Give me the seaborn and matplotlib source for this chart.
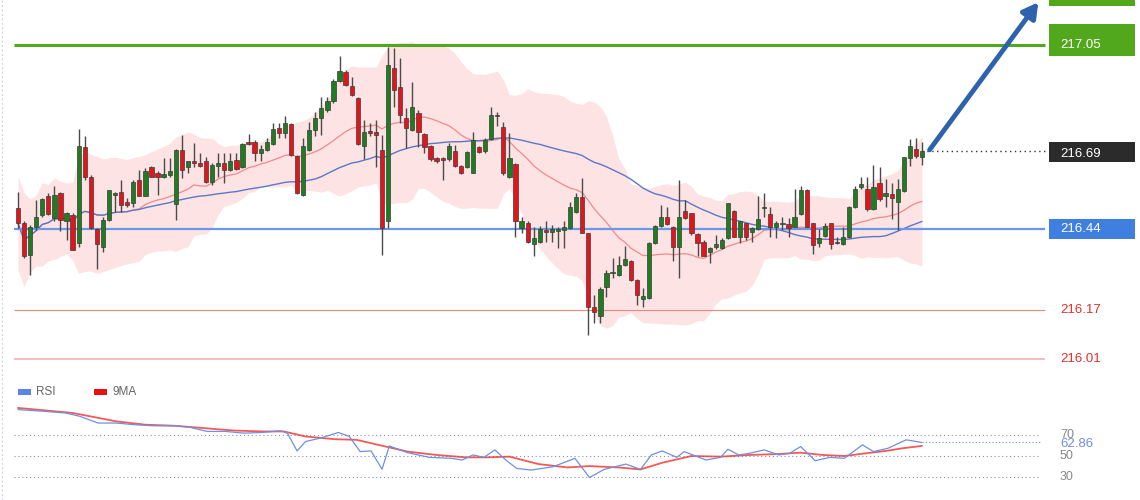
import numpy as np
import pandas as pd
import matplotlib
matplotlib.use("Agg")
import matplotlib.pyplot as plt
import seaborn as sns

# prices are given as thousandths above 216.000
PRICE_BASE = 216.0
open_m = [509,461,354,448,487,550,476,561,465,487,395,711,614,439,382,470,553,564,531,526,
603,550,645,625,614,619,523,702,647,664,660,664,597,649,660,636,669,645,727,727,
691,702,722,774,758,789,682,553,702,769,807,835,863,932,962,915,874,716,766,760,
702,465,973,912,807,769,826,755,716,675,675,671,700,649,645,627,711,697,738,818,
779,611,656,442,461,390,398,437,431,435,437,442,498,547,426,181,150,249,293,288,
321,335,271,207,210,393,450,481,448,379,501,492,424,398,365,379,376,409,501,415,
459,431,439,509,490,448,457,457,448,490,569,459,395,417,459,398,390,413,514,578,
572,505,592,550,556,531,567,674,704,680]
close_m = [459,349,448,481,539,490,553,470,492,371,716,614,443,391,470,568,561,520,520,597,
550,631,614,614,622,633,702,636,664,658,649,597,653,660,636,664,638,722,722,691,
705,730,771,758,791,686,559,716,769,807,840,866,932,965,918,885,722,760,758,752,
443,984,901,818,774,846,763,713,671,667,669,716,649,625,694,736,694,736,818,813,
625,674,465,465,398,409,439,431,439,439,446,514,547,428,183,166,240,295,299,321,
340,271,221,218,395,450,481,457,382,481,476,428,395,351,376,390,404,525,415,465,
415,442,472,512,448,459,461,442,481,569,448,387,409,450,390,393,415,512,572,589,
505,578,539,558,542,572,678,715,682,697]
high_m = [564,465,454,537,542,559,581,564,498,492,771,747,618,443,481,570,564,603,542,603,
636,642,649,631,675,675,706,752,667,724,691,680,658,691,691,691,691,724,755,736,
719,741,791,791,815,791,686,741,796,829,879,879,937,1012,966,943,877,802,791,802,
752,1045,1039,1006,840,929,835,758,719,680,678,724,719,653,697,763,716,741,846,829,
796,757,658,481,465,448,450,465,453,448,465,531,558,608,426,221,249,304,343,349,
384,337,273,244,398,453,520,514,450,603,536,494,428,402,382,420,409,526,503,468,
461,448,550,561,514,468,481,476,572,583,572,461,439,459,461,415,448,516,581,611,
614,652,645,605,592,605,680,737,741,730]
low_m = [443,343,288,437,481,487,465,432,404,371,382,603,440,307,365,465,498,498,514,514,
548,548,612,553,608,614,470,608,625,647,647,592,586,614,592,631,636,642,719,664,
664,697,719,741,741,682,556,551,700,747,752,829,857,929,915,881,718,671,747,647,
354,443,846,791,708,766,713,691,667,660,603,667,645,623,642,625,691,691,736,780,
619,608,415,426,393,349,395,398,398,376,376,439,494,426,89,127,127,216,277,284,
318,269,188,183,207,390,448,453,335,277,472,420,349,349,326,373,373,406,413,395,
404,398,437,481,415,409,437,415,446,487,446,357,382,415,373,390,387,409,509,572,
501,503,534,514,472,437,564,649,674,652]

rsi_pos = [0,4.2,7.8,10.2,13.2,16.2,19.2,22.2,25.8,28.2,31.2,34.2,37.2,40.2,43.2,44.4,46,47.4,49.8,52.8,
54.6,56.4,58.2,60,61.2,64.2,67.8,71.4,73.2,75,76.8,78.6,80.4,82.2,84.6,88.2,91.8,94.2,96.6,100.2,
102.6,104.4,106.2,108.6,109.8,113.4,115.8,117,118.8,120.6,123,125.4,127.2,129,131.4,133.8,136.2,139.2,141,143.4,
146.4,149]
rsi_val = [94.2,92.6,91.0,87.8,81.4,81.4,79.8,78.8,78.8,77.5,73.4,73.4,71.8,72.4,74.0,71.8,54.8,63.8,67.0,72.4,
68.6,54.2,54.8,37.4,59.6,53.2,48.7,47.8,46.2,51.0,48.7,55.8,46.2,38.2,36.6,39.8,47.8,29.5,37.2,42.3,
37.2,51.0,54.8,48.7,54.2,46.2,48.7,56.4,51.0,52.6,55.8,51.0,52.6,59.0,45.5,48.7,47.8,60.6,54.2,57.4,
65.4,62.86]
ma9_pos = [0,9,16.2,21,25.8,30.6,35.4,40.2,43.8,47.4,52.2,55.8,59.4,64.2,69,73.8,77.4,81,85.8,90.6,
94.2,99,102.6,106.2,111,115.8,120.6,125.4,129,132.6,136.2,139.8,143.4,145.8,149]
ma9_val = [95.8,91.0,83.0,79.8,78.8,76.6,74.3,73.4,73.4,68.6,66.0,65.4,60.6,54.2,51.0,48.7,48.7,49.4,42.3,39.1,
40.4,39.1,37.2,43.6,50.0,49.4,51.0,51.9,53.2,51.0,50.0,52.6,55.1,57.4,59.6]

levels = [217.05, 216.69, 216.44, 216.17, 216.01]
last_rsi_label = "62.86"

o = PRICE_BASE + np.array(open_m) / 1000
c = PRICE_BASE + np.array(close_m) / 1000
h = PRICE_BASE + np.array(high_m) / 1000
l = PRICE_BASE + np.array(low_m) / 1000
n = len(c)
idx = np.arange(n)
df = pd.DataFrame({"i": idx, "close": c})
df["ma20"] = df["close"].rolling(20, min_periods=1).mean()
df["sd20"] = df["close"].rolling(20, min_periods=2).std().bfill()
df["ma50"] = df["close"].rolling(50, min_periods=1).mean()

sns.set_style("white")
plt.rcParams['font.family'] = ['Liberation Sans', 'DejaVu Sans']
W, H = 1140, 500
fig = plt.figure(figsize=(11.4, 5), dpi=100)

px = 6.067
x_left = -(18 - 14) / px
x_right = (1140 - 18) / px
line_end = (1045 - 18) / px

def y_to_price(y):
    return 217.05 - (y - 45) * 0.003315

ax = fig.add_axes([14 / W, 1 - 375 / H, (W - 14) / W, 375 / H])
ax.set_xlim(x_left, x_right)
ax.set_ylim(y_to_price(375), y_to_price(0))
ax.axis("off")

ax.fill_between(idx, df["ma20"] - 2 * df["sd20"], df["ma20"] + 2 * df["sd20"],
                color="#fde3e3", lw=0, zorder=1)
sns.lineplot(x=df["i"], y=df["ma20"], ax=ax, color="#f28a8a", lw=0.9, zorder=2)
sns.lineplot(x=df["i"], y=df["ma50"], ax=ax, color="#5a78c8", lw=1.0, zorder=2)

ax.hlines(levels[0], x_left, line_end, color="#52a81c", lw=2.2, zorder=3)
ax.hlines(levels[2], x_left, line_end, color="#6a98ea", lw=1.6, zorder=3)
ax.hlines(levels[3], x_left, line_end, color="#e88a78", lw=0.8, zorder=3)
ax.hlines(levels[4], x_left, line_end, color="#f7a8a8", lw=1.1, zorder=3)
ax.hlines(c[-1], n - 1, line_end, color="#333333", lw=1, linestyles=(0, (1, 2.5)), zorder=3)

up = c >= o
cols = np.where(up, "#1e7d1e", "#e5141b")
ax.vlines(idx, l, h, color="#4a4a4a", lw=1, zorder=4)
ax.bar(idx, np.maximum(np.abs(c - o), 0.002), bottom=np.minimum(o, c), width=0.7,
       color=cols, edgecolor="#3a3a3a", lw=0.5, zorder=5)

ax.annotate("", xy=((1040 - 18) / px, y_to_price(0)), xytext=((928 - 18) / px, y_to_price(152)),
            arrowprops=dict(arrowstyle="-|>,head_width=0.5,head_length=0.9", color="#2d62ad", lw=3.5),
            zorder=6, annotation_clip=False)

bx = (1049 - 18) / px
def tag(val, txt, fc, tc="white"):
    if fc is None:
        ax.text(bx + 1.8, val, txt, color=tc, fontsize=9.5, va="center", ha="left", zorder=7)
    else:
        ax.text(bx + 1.8, val, txt, color=tc, fontsize=9.5, va="center", ha="left", zorder=7,
                bbox=dict(boxstyle="square,pad=0.45", fc=fc, ec=fc))
ax.add_patch(plt.Rectangle((bx, y_to_price(24)), (1135 - 1049) / px, y_to_price(56) - y_to_price(24) - 0.0,
                           fc="#52a81c", ec="none", zorder=6))
ax.text(bx + 1.8, levels[0], "217.05", color="white", fontsize=9.5, va="center", ha="left", zorder=7)
ax.add_patch(plt.Rectangle((bx, y_to_price(162)), (1135 - 1049) / px, y_to_price(142) - y_to_price(162),
                           fc="#2b2b2b", ec="none", zorder=6))
ax.text(bx + 1.8, levels[1], "216.69", color="white", fontsize=9.5, va="center", ha="left", zorder=7)
ax.add_patch(plt.Rectangle((bx, y_to_price(239)), (1135 - 1049) / px, y_to_price(219) - y_to_price(239),
                           fc="#3f7fe0", ec="none", zorder=6))
ax.text(bx + 1.8, levels[2], "216.44", color="white", fontsize=9.5, va="center", ha="left", zorder=7)
ax.add_patch(plt.Rectangle((bx, y_to_price(6)), (1135 - 1049) / px, 0.05,
                           fc="#52a81c", ec="none", zorder=6))
tag(levels[3], "216.17", None, "#e0302a")
tag(levels[4], "216.01", None, "#e0302a")

# RSI panel
ax2 = fig.add_axes([14 / W, 0, (W - 14) / W, 120 / H])
def y_to_rsi(y):
    return 50 + (456 - y) / 1.05
ax2.set_xlim(x_left, x_right)
ax2.set_ylim(y_to_rsi(500), y_to_rsi(380))
ax2.axis("off")
for lv in (70, 50, 30):
    ax2.hlines(lv, x_left, (1040 - 18) / px, color="#8a8fb0", lw=0.8, linestyles=(0, (1, 2.5)))
    ax2.text((1060 - 18) / px, lv, str(lv), color="#888888", fontsize=9, va="center", ha="left")
sns.lineplot(x=ma9_pos, y=ma9_val, ax=ax2, color="#f03030", lw=1.3, alpha=0.8)
sns.lineplot(x=rsi_pos, y=rsi_val, ax=ax2, color="#6e90e0", lw=0.9)
ax2.hlines(rsi_val[-1], rsi_pos[-1], (1040 - 18) / px, color="#6e90e0", lw=0.8, linestyles=(0, (1, 2)))
ax2.text((1060 - 18) / px, rsi_val[-1] - 1.5, last_rsi_label, color="#6e90e0", fontsize=9.5, va="center", ha="left")

ax2.add_patch(plt.Rectangle((x_left + 0.6, y_to_rsi(395)), 2.2, y_to_rsi(389) - y_to_rsi(395), fc="#5b86e0", ec="none"))
ax2.text(x_left + 3.6, y_to_rsi(392), "RSI", color="#666666", fontsize=8.5, va="center")
ax2.add_patch(plt.Rectangle((x_left + 13.2, y_to_rsi(395)), 2.2, y_to_rsi(389) - y_to_rsi(395), fc="#e81010", ec="none"))
ax2.text(x_left + 16.2, y_to_rsi(392), "9MA", color="#666666", fontsize=8.5, va="center")

fig.add_artist(plt.Line2D([2 / W, 2 / W], [0, 1], color="#cfd6e6", lw=0.8, linestyle=(0, (2, 2))))

fig.savefig("out.png", dpi=100)
